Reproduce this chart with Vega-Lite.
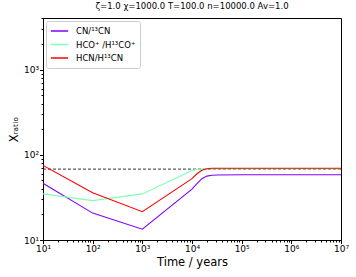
{
  "$schema": "https://vega.github.io/schema/vega-lite/v6.json",
  "width": 298,
  "height": 222,
  "autosize": {"type": "none"},
  "padding": {"left": 43, "top": 18, "right": 15, "bottom": 37},
  "title": {"text": "ζ=1.0 χ=1000.0 T=100.0 n=10000.0  Av=1.0", "font": "DejaVu Sans", "fontSize": 8.5, "fontWeight": "normal", "offset": 4, "color": "black"},
  "config": {
    "view": {"stroke": "black", "strokeWidth": 1},
    "font": "DejaVu Sans",
    "axis": {"grid": false, "domainColor": "black", "tickColor": "black", "labelColor": "black", "titleColor": "black", "labelFont": "DejaVu Sans", "titleFont": "DejaVu Sans", "titleFontWeight": "normal"}
  },
  "datasets": {
    "lines": [
      {"t": 10, "r": 46.4, "s": "CN/¹³CN"},
      {"t": 100, "r": 20.7, "s": "CN/¹³CN"},
      {"t": 1000, "r": 13.4, "s": "CN/¹³CN"},
      {"t": 10000, "r": 39.5, "s": "CN/¹³CN"},
      {"t": 12589, "r": 46, "s": "CN/¹³CN"},
      {"t": 15849, "r": 52.5, "s": "CN/¹³CN"},
      {"t": 19953, "r": 56.3, "s": "CN/¹³CN"},
      {"t": 25119, "r": 57.7, "s": "CN/¹³CN"},
      {"t": 31623, "r": 58.1, "s": "CN/¹³CN"},
      {"t": 100000, "r": 58.3, "s": "CN/¹³CN"},
      {"t": 1000000, "r": 58.3, "s": "CN/¹³CN"},
      {"t": 10000000, "r": 58.3, "s": "CN/¹³CN"},
      {"t": 10, "r": 34.8, "s": "HCO⁺ /H¹³CO⁺"},
      {"t": 100, "r": 29.0, "s": "HCO⁺ /H¹³CO⁺"},
      {"t": 1000, "r": 34.8, "s": "HCO⁺ /H¹³CO⁺"},
      {"t": 10000, "r": 65.3, "s": "HCO⁺ /H¹³CO⁺"},
      {"t": 12589, "r": 67.6, "s": "HCO⁺ /H¹³CO⁺"},
      {"t": 15849, "r": 68.3, "s": "HCO⁺ /H¹³CO⁺"},
      {"t": 19953, "r": 68.5, "s": "HCO⁺ /H¹³CO⁺"},
      {"t": 100000, "r": 68.5, "s": "HCO⁺ /H¹³CO⁺"},
      {"t": 1000000, "r": 68.5, "s": "HCO⁺ /H¹³CO⁺"},
      {"t": 10000000, "r": 68.5, "s": "HCO⁺ /H¹³CO⁺"},
      {"t": 10, "r": 75, "s": "HCN/H¹³CN"},
      {"t": 100, "r": 35.9, "s": "HCN/H¹³CN"},
      {"t": 1000, "r": 21.5, "s": "HCN/H¹³CN"},
      {"t": 10000, "r": 52.5, "s": "HCN/H¹³CN"},
      {"t": 12589, "r": 60, "s": "HCN/H¹³CN"},
      {"t": 15849, "r": 66, "s": "HCN/H¹³CN"},
      {"t": 19953, "r": 68.8, "s": "HCN/H¹³CN"},
      {"t": 25119, "r": 69.5, "s": "HCN/H¹³CN"},
      {"t": 100000, "r": 69.7, "s": "HCN/H¹³CN"},
      {"t": 1000000, "r": 69.7, "s": "HCN/H¹³CN"},
      {"t": 10000000, "r": 69.7, "s": "HCN/H¹³CN"}
    ],
    "ref": [{"ref": 68}]
  },
  "layer": [
    {
      "data": {"name": "ref"},
      "mark": {"type": "rule", "strokeDash": [3, 2], "color": "#333333", "strokeWidth": 1},
      "encoding": {"y": {"field": "ref", "type": "quantitative", "scale": {"type": "log", "domain": [10, 4050]}}}
    },
    {
      "data": {"name": "lines"},
      "mark": {"type": "line", "strokeWidth": 1.1, "clip": true},
      "encoding": {
        "x": {
          "field": "t", "type": "quantitative",
          "scale": {"type": "log", "domain": [10, 10000000], "nice": false},
          "axis": {
            "title": "Time / years", "titleFontSize": 11.5, "titlePadding": 3,
            "values": [10,20,30,40,50,60,70,80,90,100,200,300,400,500,600,700,800,900,1000,2000,3000,4000,5000,6000,7000,8000,9000,10000,20000,30000,40000,50000,60000,70000,80000,90000,100000,200000,300000,400000,500000,600000,700000,800000,900000,1000000,2000000,3000000,4000000,5000000,6000000,7000000,8000000,9000000,10000000],
            "labelExpr": "abs(log(datum.value)/LN10 - round(log(datum.value)/LN10)) < 0.000001 ? '10' + ['⁰','¹','²','³','⁴','⁵','⁶','⁷'][round(log(datum.value)/LN10)] : ''",
            "tickSize": {"condition": {"test": "abs(log(datum.value)/LN10 - round(log(datum.value)/LN10)) < 0.000001", "value": 3.5}, "value": 2},
            "labelFontSize": 9, "labelPadding": 1, "labelFlush": false, "labelOverlap": false
          }
        },
        "y": {
          "field": "r", "type": "quantitative",
          "scale": {"type": "log", "domain": [10, 4050], "nice": false},
          "axis": {
            "title": "Xᵣₐₜᵢₒ", "titleFontSize": 11.5, "titlePadding": 4,
            "values": [10,20,30,40,50,60,70,80,90,100,200,300,400,500,600,700,800,900,1000,2000,3000,4000],
            "labelExpr": "abs(log(datum.value)/LN10 - round(log(datum.value)/LN10)) < 0.000001 ? '10' + ['⁰','¹','²','³','⁴','⁵','⁶','⁷'][round(log(datum.value)/LN10)] : ''",
            "tickSize": {"condition": {"test": "abs(log(datum.value)/LN10 - round(log(datum.value)/LN10)) < 0.000001", "value": 3.5}, "value": 2},
            "labelFontSize": 9, "labelPadding": 1, "labelOverlap": false
          }
        },
        "color": {
          "field": "s", "type": "nominal",
          "sort": ["CN/¹³CN", "HCO⁺ /H¹³CO⁺", "HCN/H¹³CN"],
          "scale": {"domain": ["CN/¹³CN", "HCO⁺ /H¹³CO⁺", "HCN/H¹³CN"], "range": ["#8000ff", "#80ffb4", "#ff0000"]},
          "legend": {
            "title": null, "orient": "top-left", "offset": 3,
            "symbolType": "stroke", "symbolSize": 300, "symbolStrokeWidth": 1.3,
            "clipHeight": 12,
            "labelFontSize": 8.5, "labelFont": "DejaVu Sans", "labelColor": "black",
            "strokeColor": "#cccccc", "fillColor": "white", "cornerRadius": 2,
            "padding": 4, "rowPadding": 1.5, "labelOffset": 7
          }
        }
      }
    }
  ]
}
